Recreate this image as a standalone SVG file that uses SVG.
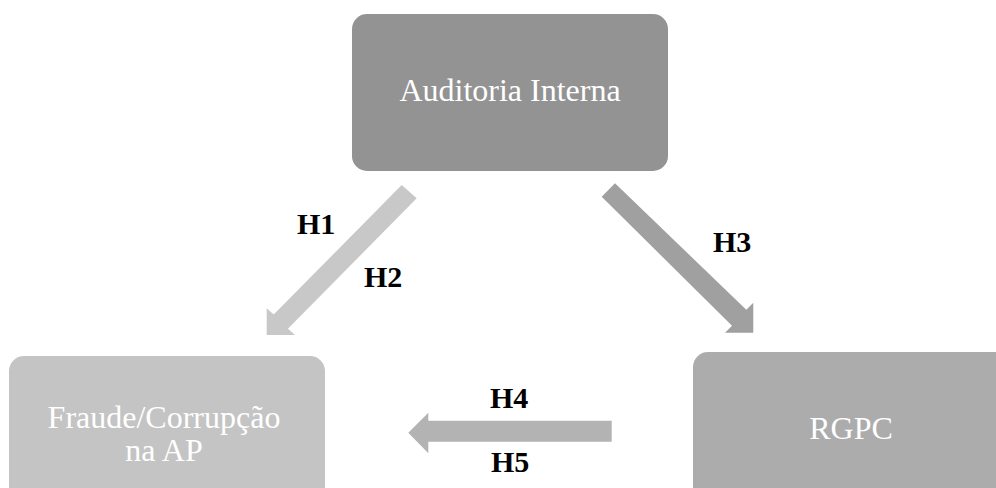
<svg xmlns="http://www.w3.org/2000/svg" width="996" height="488" viewBox="0 0 996 488">
  <style>
    .node-label { font-family: "Liberation Serif", "Times New Roman", serif; font-size: 32px; fill: #ffffff; text-anchor: middle; }
    .hyp { font-family: "Liberation Serif", "Times New Roman", serif; font-size: 30px; font-weight: bold; fill: #000000; }
  </style>
  <rect width="996" height="488" fill="#ffffff"/>

  <g id="connectors">
    <!-- Auditoria Interna -> Fraude/Corrupção (H1, H2) -->
    <polygon fill="#c8c8c8" points="401.7,185 416.7,198.3 287.9,328.8 295,335 266.7,335 266.7,308.3 273.7,314.6"/>
    <!-- Auditoria Interna -> RGPC (H3) -->
    <polygon fill="#a0a0a0" points="615,183.3 601.7,196.7 732,325.7 725,332.7 753.3,332.7 753.3,302.7 746.3,309.7"/>
    <!-- RGPC -> Fraude/Corrupção (H4, H5) -->
    <polygon fill="#b3b3b3" points="611.7,420.7 611.7,441.7 428.3,441.7 428.3,453.3 408.3,432.7 428.3,412.7 428.3,420.7"/>
  </g>

  <g id="labels">
    <text class="hyp" x="297" y="234">H1</text>
    <text class="hyp" x="364" y="287">H2</text>
    <text class="hyp" x="713" y="252">H3</text>
    <text class="hyp" x="490" y="408">H4</text>
    <text class="hyp" x="491" y="472">H5</text>
  </g>

  <g id="auditoria-interna">
    <rect x="352" y="14" width="316" height="157" rx="15" fill="#939393"/>
    <text class="node-label" x="510" y="101">Auditoria Interna</text>
  </g>

  <g id="fraude-corrupcao">
    <rect x="9" y="356" width="316" height="157" rx="15" fill="#c4c4c4"/>
    <text class="node-label" x="164" y="428">Fraude/Corrupção</text>
    <text class="node-label" x="164" y="461">na AP</text>
  </g>

  <g id="rgpc">
    <rect x="693" y="352" width="316" height="157" rx="15" fill="#acacac"/>
    <text class="node-label" x="851" y="439">RGPC</text>
  </g>
</svg>
